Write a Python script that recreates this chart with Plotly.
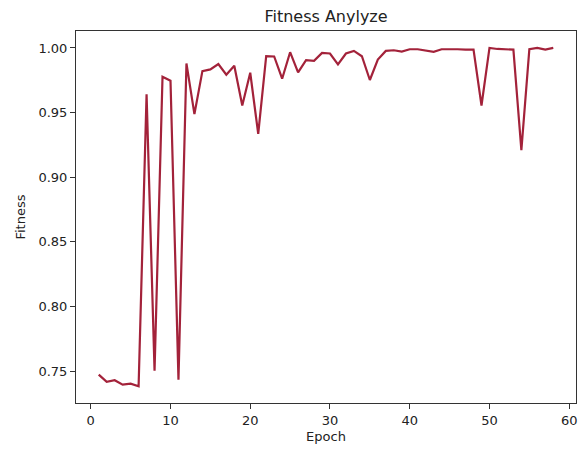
import plotly.graph_objects as go

# Fitness value recorded at each training epoch
epochs = list(range(1, 59))
fitness = [
    0.7473, 0.7417, 0.7430, 0.7396, 0.7404, 0.7384, 0.9642, 0.7504, 0.9777, 0.9747,
    0.7435, 0.9880, 0.9488, 0.9821, 0.9834, 0.9875, 0.9793, 0.9862, 0.9555, 0.9808,
    0.9335, 0.9936, 0.9934, 0.9762, 0.9967, 0.9811, 0.9906, 0.9901, 0.9962, 0.9957,
    0.9872, 0.9957, 0.9977, 0.9936, 0.9752, 0.9910, 0.9977, 0.9982, 0.9972, 0.9990,
    0.9990, 0.9982, 0.9970, 0.9990, 0.9992, 0.9990, 0.9987, 0.9987, 0.9555, 1.0000,
    0.9992, 0.9990, 0.9987, 0.9209, 0.9990, 1.0000, 0.9987, 1.0000,
]

x_ticks = [0, 10, 20, 30, 40, 50, 60]
y_ticks = [0.75, 0.80, 0.85, 0.90, 0.95, 1.00]

font_family = "DejaVu Sans"
axis_color = "#333333"
text_color = "#222222"

fig = go.Figure(
    go.Scatter(
        x=epochs,
        y=fitness,
        mode="lines",
        line=dict(color="#a3223a", width=2.2),
        hoverinfo="x+y",
    )
)

axis_common = dict(
    showgrid=False,
    zeroline=False,
    showline=True,
    linecolor=axis_color,
    linewidth=1,
    mirror=True,
    ticks="outside",
    ticklen=5,
    tickwidth=1,
    tickcolor=axis_color,
    tickfont=dict(family=font_family, size=13, color=text_color),
)

fig.update_xaxes(
    range=[-1.85, 60.85],
    tickvals=x_ticks,
    ticktext=[str(v) for v in x_ticks],
    title=dict(text="Epoch", font=dict(family=font_family, size=13, color=text_color), standoff=5),
    **axis_common,
)
fig.update_yaxes(
    range=[0.7254, 1.0131],
    tickvals=y_ticks,
    ticktext=[f"{v:.2f}" for v in y_ticks],
    title=dict(text="Fitness", font=dict(family=font_family, size=13, color=text_color), standoff=9),
    **axis_common,
)

fig.update_layout(
    width=584,
    height=449,
    margin=dict(l=76, r=7, t=31, b=44),
    paper_bgcolor="white",
    plot_bgcolor="white",
    showlegend=False,
    title=dict(
        text="Fitness Anylyze",
        x=0.5,
        xref="paper",
        y=1,
        yref="paper",
        yanchor="bottom",
        pad=dict(b=9),
        font=dict(family=font_family, size=16, color=text_color),
    ),
)

fig.write_html("out.html")
